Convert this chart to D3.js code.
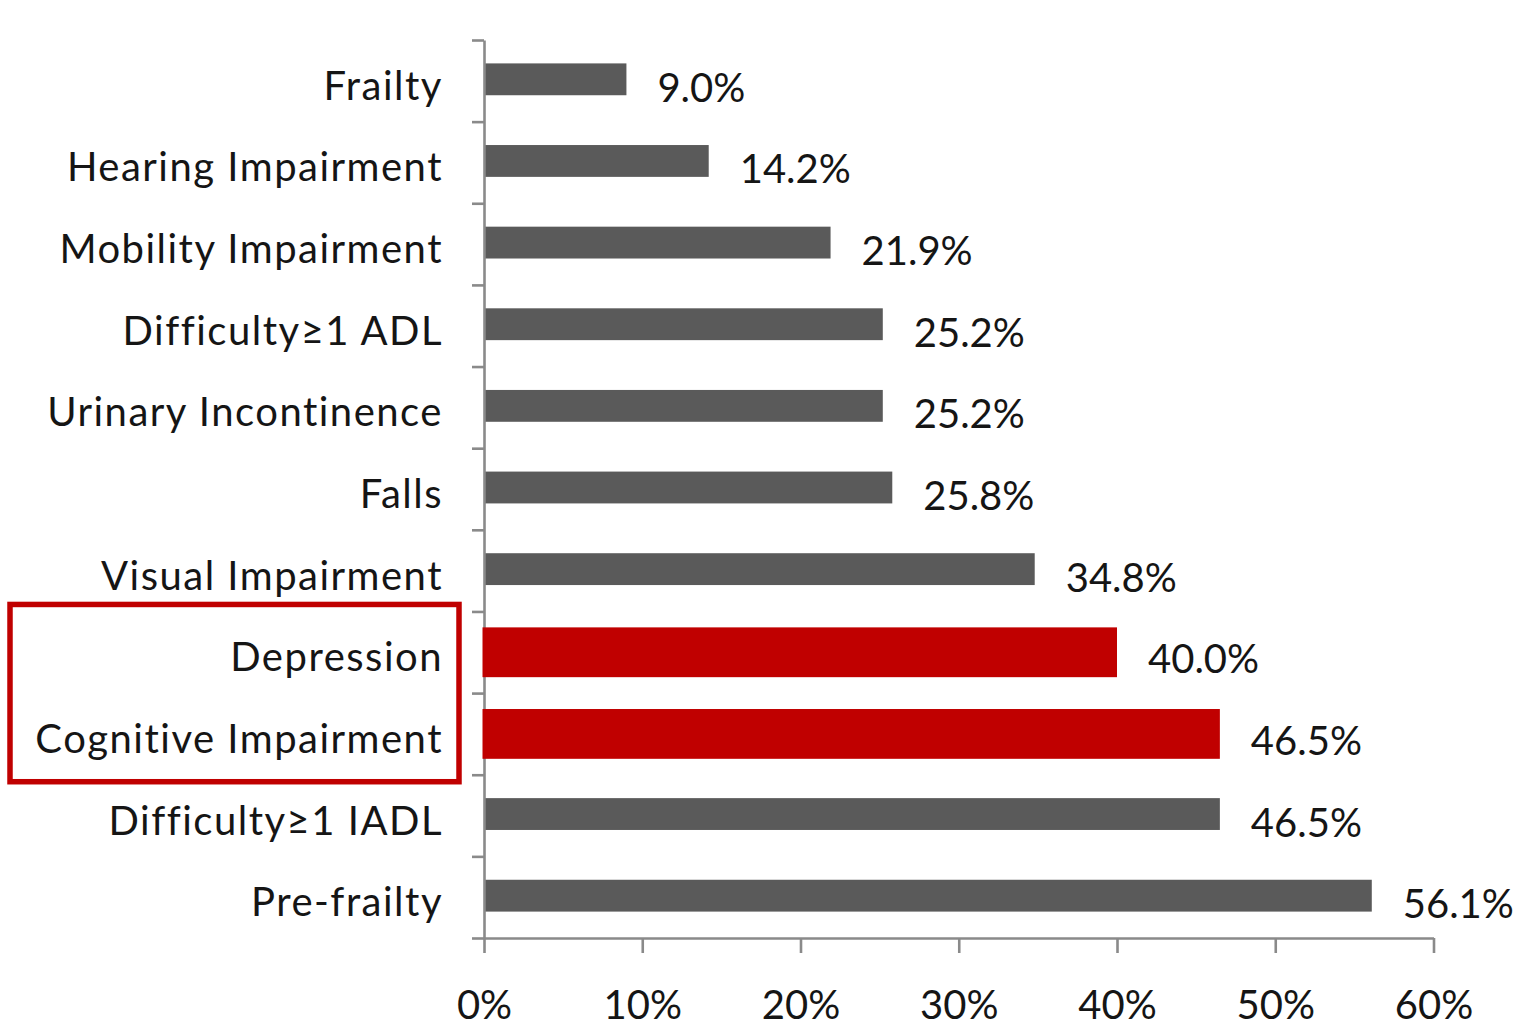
<!DOCTYPE html>
<html>
<head>
<meta charset="utf-8">
<script src="https://cdn.jsdelivr.net/npm/d3@7"></script>
<style>
  html, body { margin: 0; padding: 0; background: #fff; }
  svg text { font-family: Lato, "Open Sans", sans-serif; fill: #151515; }
</style>
</head>
<body>
<svg id="chart" width="1524" height="1028"></svg>
<script>
const categories = ["Frailty", "Hearing Impairment", "Mobility Impairment", "Difficulty\u22651 ADL",
  "Urinary Incontinence", "Falls", "Visual Impairment", "Depression", "Cognitive Impairment",
  "Difficulty\u22651 IADL", "Pre-frailty"];
const values = [9.0, 14.2, 21.9, 25.2, 25.2, 25.8, 34.8, 40.0, 46.5, 46.5, 56.1];
const highlighted = ["Depression", "Cognitive Impairment"];
const xTicks = [0, 10, 20, 30, 40, 50, 60];

(function () {
const svg = d3.select("#chart");
const mLeft = 484, mRight = 1433.5, mTop = 40, mBottom = 938;

const x = d3.scaleLinear().domain([0, 60]).range([mLeft, mRight]);
const y = d3.scaleBand().domain(categories).range([mTop, mBottom]).padding(0);
const yIdx = d3.scaleLinear().domain([0, categories.length]).range([mTop, mBottom]);

const data = categories.map((c, i) => ({ cat: c, value: values[i], hi: highlighted.includes(c) }));

// gray bars
svg.append("g").selectAll("rect").data(data.filter(d => !d.hi)).join("rect")
  .attr("x", x(0) + 1)
  .attr("y", d => y(d.cat) + y.bandwidth() * 0.5 - y.bandwidth() * 0.195 - 1.5)
  .attr("width", d => x(d.value) - x(0) - 1)
  .attr("height", y.bandwidth() * 0.39)
  .attr("fill", "#5a5a5a");

// axes
const axisColor = "#8a8a8a";
const yAxis = svg.append("g").attr("transform", `translate(${mLeft},0)`)
  .call(d3.axisLeft(yIdx).tickValues(d3.range(categories.length + 1)).tickSize(12).tickSizeOuter(0).tickFormat(""));
const xAxis = svg.append("g").attr("transform", `translate(0,${mBottom})`)
  .call(d3.axisBottom(x).tickValues(xTicks).tickSize(15).tickSizeOuter(0).tickFormat(d => d + "%"));
[yAxis, xAxis].forEach(a => {
  a.select(".domain").attr("stroke", axisColor).attr("stroke-width", 2.6);
  a.selectAll(".tick line").attr("stroke", axisColor).attr("stroke-width", 2.6);
});
xAxis.attr("font-family", null).attr("font-size", null);
xAxis.selectAll(".tick text")
  .attr("y", 81).attr("dy", 0)
  .style("font-size", "40px").style("fill", "#151515");

// red highlighted bars (drawn over axis)
svg.append("g").selectAll("rect").data(data.filter(d => d.hi)).join("rect")
  .attr("x", x(0) - 1.5)
  .attr("y", d => y(d.cat) + y.bandwidth() * 0.5 - y.bandwidth() * 0.305)
  .attr("width", d => x(d.value) - x(0) + 1.5)
  .attr("height", y.bandwidth() * 0.61)
  .attr("fill", "#c00000");

// category labels
svg.append("g").selectAll("text").data(data).join("text")
  .attr("x", 443)
  .attr("y", d => y(d.cat) + y.bandwidth() / 2 + 19)
  .attr("text-anchor", "end")
  .style("font-size", "40px")
  .style("letter-spacing", "1.5px")
  .text(d => d.cat);

// value labels
svg.append("g").selectAll("text").data(data).join("text")
  .attr("x", d => x(d.value) + 31)
  .attr("y", d => y(d.cat) + y.bandwidth() / 2 + 21)
  .style("font-size", "40px")
  .text(d => d.value.toFixed(1) + "%");

// red box around highlighted labels
const hiTop = y(highlighted[0]) - 7;
const hiBot = y(highlighted[highlighted.length - 1]) + y.bandwidth() + 7;
svg.append("rect")
  .attr("x", 10).attr("y", hiTop)
  .attr("width", 449).attr("height", hiBot - hiTop)
  .attr("fill", "none").attr("stroke", "#c00000").attr("stroke-width", 5.5);
})();
</script>
</body>
</html>
